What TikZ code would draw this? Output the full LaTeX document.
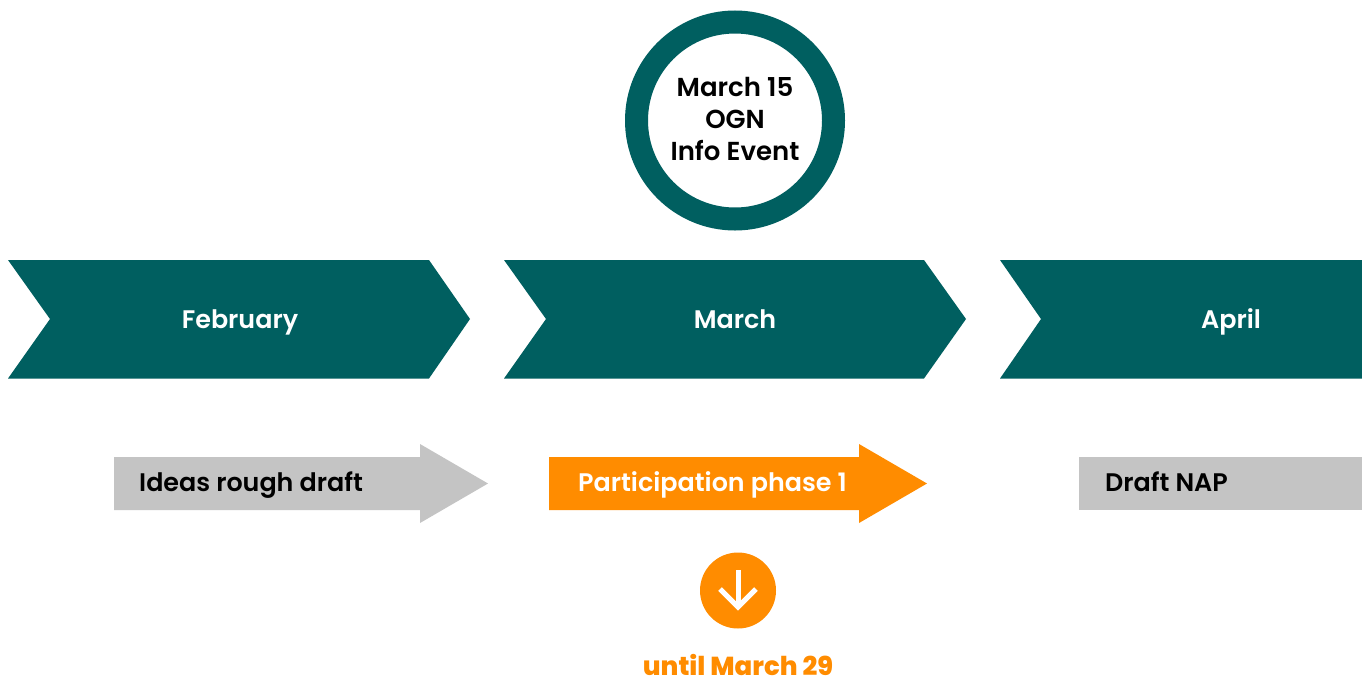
\documentclass[tikz,border=0pt]{standalone}
\usepackage{fontspec}
\setmainfont{Poppins}[UprightFont=* SemiBold,BoldFont=* ExtraBold]
\definecolor{teal1}{HTML}{005F60}
\definecolor{orange1}{HTML}{FF8C00}
\definecolor{grey1}{HTML}{C4C4C4}
\tikzset{
  chev/.style={fill=teal1,draw=none},
  lab/.style={font=\fontsize{25.4}{30}\selectfont,inner sep=0pt,anchor=base},
}
\begin{document}
\begin{tikzpicture}[x=1pt,y=-1pt]
\useasboundingbox (0,0) rectangle (1362,678);
\fill[white] (0,0) rectangle (1362,678);
% circle
\node[circle,draw=teal1,fill=white,line width=23pt,minimum size=197pt,inner sep=0pt] (ring) at (735,120.5) {};
\node[lab,align=center,anchor=center,font=\fontsize{26}{32}\selectfont] (ev) at (735,118.7) {March 15\\OGN\\Info Event};
% chevrons
\fill[chev] (8,260) -- (429,260) -- (470,319) -- (429,378.5) -- (8,378.5) -- (50,319) -- cycle;
\fill[chev] (504,260) -- (924,260) -- (966,319) -- (924,378.5) -- (504,378.5) -- (546,319) -- cycle;
\fill[chev] (1000,260) -- (1362,260) -- (1362,378.5) -- (1000,378.5) -- (1041,319) -- cycle;
\node[lab,text=white] (feb) at (240,328) {February};
\node[lab,text=white] (mar) at (735,328) {March};
\node[lab,text=white] (apr) at (1231,328) {April};
% arrows
\fill[grey1] (114,457) -- (420,457) -- (420,444) -- (488,483.5) -- (420,523) -- (420,510) -- (114,510) -- cycle;
\fill[orange1] (549,457) -- (859,457) -- (859,444) -- (927,483.5) -- (859,523) -- (859,510) -- (549,510) -- cycle;
\fill[grey1] (1079,457) -- (1362,457) -- (1362,510) -- (1079,510) -- cycle;
\node[lab,anchor=base west] (ideas) at (139,491) {Ideas rough draft};
\node[lab,anchor=base west,text=white] (part) at (578,491) {Participation phase 1};
\node[lab,anchor=base west] (nap) at (1105,491) {Draft NAP};
% circle arrow
\node[circle,fill=orange1,minimum size=76pt,inner sep=0pt] (dn) at (738,590.5) {};
\draw[white,line width=5pt] (738,570) -- (738,607);
\draw[white,line width=5pt] (720,589) -- (738,607) -- (756,589);
\node[lab,font=\bfseries\fontsize{26}{30}\selectfont,text=orange1] (until) at (738,675) {until March 29};
\end{tikzpicture}
\end{document}
